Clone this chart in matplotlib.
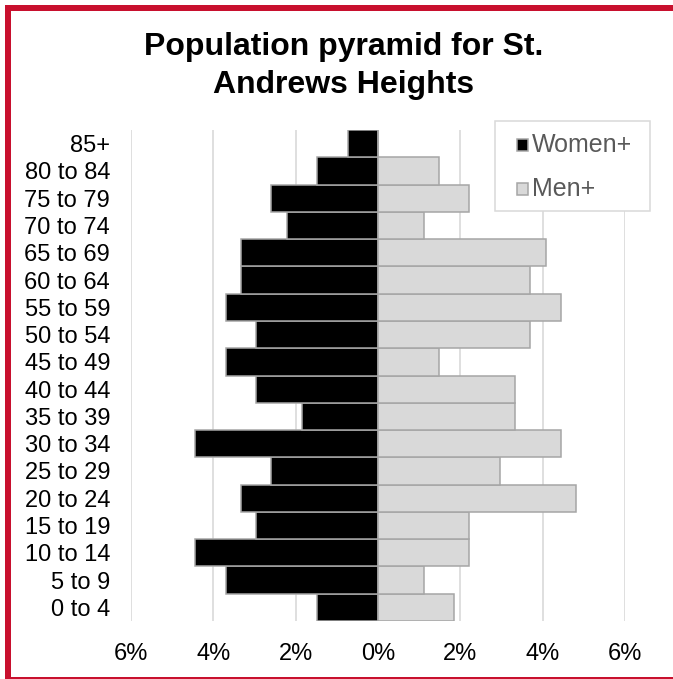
import matplotlib
matplotlib.use("Agg")
import matplotlib.pyplot as plt
from matplotlib.patches import Rectangle
from matplotlib.ticker import FuncFormatter

age_groups = ["0 to 4", "5 to 9", "10 to 14", "15 to 19", "20 to 24", "25 to 29",
              "30 to 34", "35 to 39", "40 to 44", "45 to 49", "50 to 54", "55 to 59",
              "60 to 64", "65 to 69", "70 to 74", "75 to 79", "80 to 84", "85+"]
women_pct = [1.48, 3.70, 4.44, 2.96, 3.33, 2.59, 4.44, 1.85, 2.96, 3.70, 2.96, 3.70,
             3.33, 3.33, 2.22, 2.59, 1.48, 0.74]
men_pct = [1.85, 1.11, 2.22, 2.22, 4.81, 2.96, 4.44, 3.33, 3.33, 1.48, 3.70, 4.44,
           3.70, 4.07, 1.11, 2.22, 1.48, 0.0]
x_ticks = [-6, -4, -2, 0, 2, 4, 6]
series_names = ["Women+", "Men+"]
series_colors = ["black", "#D9D9D9"]
title_lines = ["Population pyramid for St.", "Andrews Heights"]

plt.rcParams['font.family'] = ['Liberation Sans', 'DejaVu Sans']

W, H = 673, 679
fig = plt.figure(figsize=(W / 100, H / 100), dpi=100)

ax = fig.add_axes([131 / W, 1 - 621 / H, (625 - 131) / W, (621 - 130) / H])

y = list(range(len(age_groups)))
ax.barh(y, [-v for v in women_pct], height=1.0, color=series_colors[0],
        edgecolor="#A6A6A6", linewidth=1.1, label=series_names[0], zorder=3)
ax.barh(y, men_pct, height=1.0, color=series_colors[1],
        edgecolor="#A6A6A6", linewidth=1.1, label=series_names[1], zorder=3)

ax.set_xlim(-6, 6)
ax.set_ylim(-0.5, len(age_groups) - 0.5)
ax.set_xticks(x_ticks)
ax.xaxis.set_major_formatter(FuncFormatter(lambda v, p: f"{abs(int(round(v)))}%"))
ax.set_yticks(y)
ax.set_yticklabels(age_groups)
ax.tick_params(axis="both", length=0, labelsize=17, colors="black")
ax.tick_params(axis="y", pad=15)
ax.tick_params(axis="x", pad=16)
ax.xaxis.grid(True, color="#D9D9D9", linewidth=1.2, zorder=0)
ax.set_axisbelow(True)
for s in ax.spines.values():
    s.set_visible(False)

fig.text(344 / W, 1 - 47 / H, title_lines[0], ha="center", va="center",
         fontsize=23, fontweight="bold")
fig.text(344 / W, 1 - 85 / H, title_lines[1], ha="center", va="center",
         fontsize=23, fontweight="bold")

# legend (drawn in figure pixel layout)
def fx(px):
    return px / W

def fy(py):
    return 1 - py / H

fig.patches.append(Rectangle((fx(495), fy(211)), fx(650) - fx(495), fy(121) - fy(211),
                             transform=fig.transFigure, facecolor="white",
                             edgecolor="#D9D9D9", linewidth=1.1, zorder=5))
for name, col, cy in zip(series_names, series_colors, [145, 189]):
    fig.patches.append(Rectangle((fx(517), fy(cy + 5.5)), fx(11), 11 / H,
                                 transform=fig.transFigure, facecolor=col,
                                 edgecolor="#A6A6A6", linewidth=1.1, zorder=6))
    fig.text(fx(532), fy(cy), name, ha="left", va="center", fontsize=18,
             color="#595959", zorder=6)

border = Rectangle((8 / W, -0.5 / H), (W + 20) / W, (H - 8 + 0.5) / H,
                   transform=fig.transFigure, fill=False,
                   edgecolor="#C8102E", linewidth=6 * 0.72, clip_on=False)
fig.patches.append(border)

fig.savefig("out.png", dpi=100, facecolor="white")
